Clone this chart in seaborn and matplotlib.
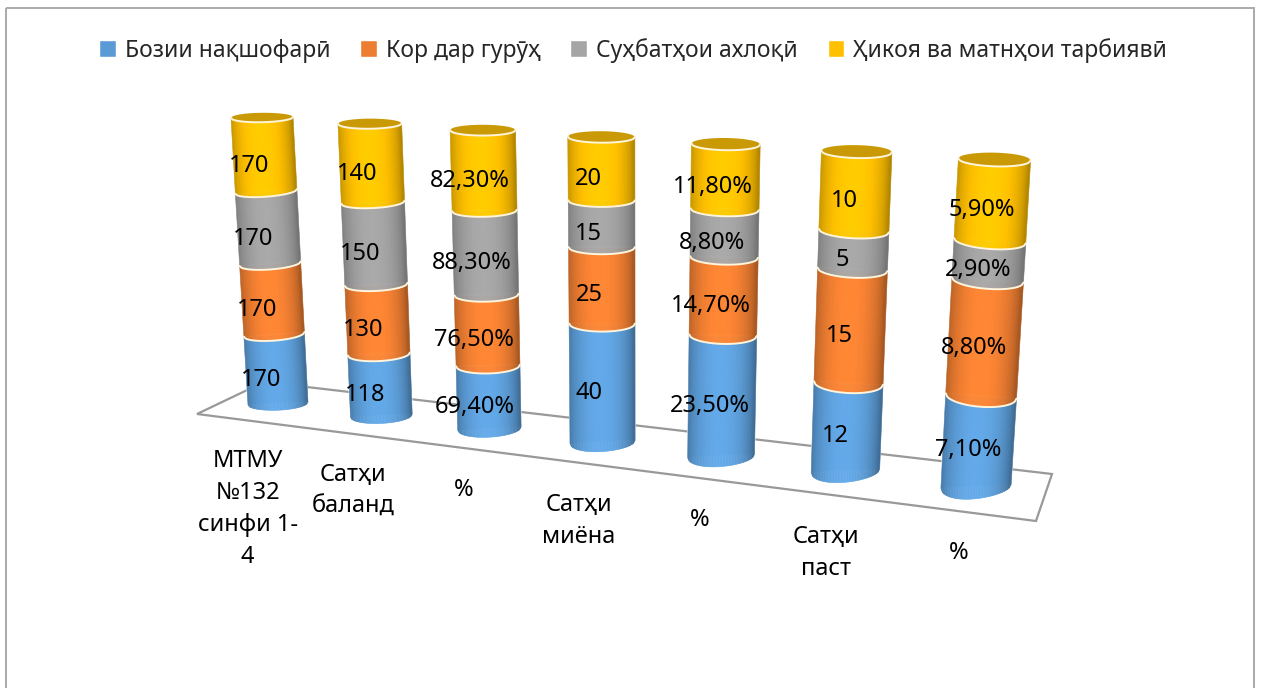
import numpy as np
import seaborn as sns
import matplotlib
matplotlib.use('Agg')
from matplotlib import pyplot as plt
from matplotlib.collections import PolyCollection
from matplotlib.colors import to_rgb
from matplotlib.patches import Polygon, Rectangle
from matplotlib.transforms import Affine2D, Transform

# Chart data, one list per series
categories = ['МТМУ\n№132\nсинфи 1-\n4', 'Сатҳи\nбаланд', '%', 'Сатҳи\nмиёна', '%', 'Сатҳи\nпаст', '%']
series_names = ['Бозии нақшофарӣ', 'Кор дар гурӯҳ', 'Суҳбатҳои ахлоқӣ', 'Ҳикоя ва матнҳои тарбиявӣ']
blue_vals = [170, 118, 69.4, 40, 23.5, 12, 7.1]
orange_vals = [170, 130, 76.5, 25, 14.7, 15, 8.8]
gray_vals = [170, 150, 88.3, 15, 8.8, 5, 2.9]
yellow_vals = [170, 140, 82.3, 20, 11.8, 10, 5.9]

colors = ['#5B9BD5', '#ED7D31', '#A5A5A5', '#FFC000']
peaks = [1.10, 1.09, 1.03, 1.07]
BAR_W = 0.7
W, H = 1261, 688

sns.set_theme(style='white')
plt.rcParams['font.family'] = ['Noto Sans', 'DejaVu Sans']


# Column axes of the first and last cylinder, base and top, in image pixels
def homography(src, dst):
    rows, rhs = [], []
    for (x, y), (u, v) in zip(src, dst):
        rows.append([x, y, 1, 0, 0, 0, -u * x, -u * y])
        rows.append([0, 0, 0, x, y, 1, -v * x, -v * y])
        rhs += [u, v]
    return np.append(np.linalg.solve(np.array(rows, float), np.array(rhs, float)), 1).reshape(3, 3)


MAT = homography([(0, 0), (6, 0), (0, 1), (6, 1)],
                 [(278, 403.5), (976, 486.5), (262, 117.5), (994.5, 159.5)])


def half_width(i, y):
    return 30 + 0.85 * i + 1.0 * y


def cap_ry(i, y):
    # ellipse half height in pixels, flatter near the eye level at the top
    return (7 + i) * (1 - y) + (4.5 + i / 3) * y


def col_height(i):
    return 286 + 7 * i


def ring_tilt(i, y):
    # rings lean outwards on the outer columns, the top cap and the base much less
    mid = (i - 3) / 3 * 0.075
    top = (i - 3) / 3 * 0.023 + 0.007
    t = np.where(y > 0.85, mid + (top - mid) * (y - 0.85) / 0.15, mid)
    return np.where(y < 0.1, -0.05 + (mid + 0.05) * y / 0.1, t)


class Perspective(Transform):
    input_dims = 2
    output_dims = 2
    is_separable = False
    has_inverse = False

    def transform_non_affine(self, values):
        values = np.asarray(values, float)
        x, y = values[:, 0], values[:, 1]
        i = np.rint(x)
        d = MAT[2, 0] * i + MAT[2, 1] * y + 1
        px = (MAT[0, 0] * i + MAT[0, 1] * y + MAT[0, 2]) / d
        py = (MAT[1, 0] * i + MAT[1, 1] * y + MAT[1, 2]) / d
        off = (x - i) / (BAR_W / 2) * half_width(i, y)
        return np.column_stack([px + off, py + off * ring_tilt(i, y)])


fig = plt.figure(figsize=(W / 100, H / 100), dpi=100, facecolor='white')
ax = fig.add_axes([0, 0, 1, 1])

pix = Affine2D().scale(1 / W, -1 / H).translate(0, 1) + fig.transFigure
persp = Perspective() + pix

# 100% stacked bars
table = np.array([blue_vals, orange_vals, gray_vals, yellow_vals], float)
shares = table / table.sum(axis=0)
bottoms = np.vstack([np.zeros(7), np.cumsum(shares, axis=0)[:-1]])
for k, name in enumerate(series_names):
    sns.barplot(x=list(range(7)), y=shares[k], bottom=bottoms[k], color=colors[k], saturation=1,
                width=BAR_W, label=name, legend=False, ax=ax)

handles = list(ax.containers)

# floor and chart frame
ax.add_patch(Polygon([(197, 414), (264, 382), (1052, 474), (1036, 521)], closed=True, fill=False,
                     edgecolor='#999999', lw=1.6, transform=pix, zorder=1, clip_on=False))
ax.add_patch(Rectangle((6, 8), 1248, 720, fill=False, edgecolor='#aaaaaa', lw=1.4,
                       transform=pix, zorder=0, clip_on=False))

us = np.linspace(-1, 1, 45)


def shade(u, peak):
    # dark at both edges of the cylinder, bright a little left of centre
    return 0.70 + (peak - 0.70) * np.clip(1 - ((u + 0.05) / 1.0) ** 2, 0, 1) ** 0.7


def arc(i, y, u):
    return y - cap_ry(i, y) / col_height(i) * np.sqrt(np.clip(1 - u ** 2, 0, 1))


for k, cont in enumerate(ax.containers):
    base = np.array(to_rgb(colors[k]))
    verts, cols = [], []
    for bar in cont:
        bar.set_transform(persp)
        bar.set_clip_on(False)
        bar.set_zorder(2)
        x0, w = bar.get_x(), bar.get_width()
        y0, y1 = bar.get_y(), bar.get_y() + bar.get_height()
        i = x0 + w / 2
        for a, b in zip(us[:-1], us[1:]):
            xa, xb = i + a * w / 2, i + b * w / 2
            verts.append([(xa, arc(i, y0, a)), (xb, arc(i, y0, b)), (xb, arc(i, y1, b)), (xa, arc(i, y1, a))])
            cols.append(np.clip(base * shade((a + b) / 2, peaks[k]), 0, 1))
        # light seam along the front of each ring
        ax.plot(i + us * w / 2, arc(i, y1, us), color='#fff4dc', lw=1.4, transform=persp, zorder=4,
                solid_capstyle='round', scalex=False, scaley=False)
        if k == 3:
            top = [(i + u * w / 2, arc(i, 1, u)) for u in us]
            back = [(i + u * w / 2, 2 - arc(i, 1, u)) for u in us[::-1]]
            ax.add_patch(Polygon(top + back, closed=True, facecolor='#c99a06', edgecolor='none',
                                 transform=persp, zorder=3.5, clip_on=False))
    ax.add_collection(PolyCollection(verts, facecolors=cols, edgecolors=cols, linewidths=0.4,
                                     transform=persp, zorder=3), autolim=False)


def fmt(pos, v):
    if categories[pos] == '%':
        return ('%.2f%%' % v).replace('.', ',')
    return '%d' % v


# data labels sit left of the axis and a bit below the middle of each segment
for k in range(4):
    for pos in range(7):
        mid = bottoms[k][pos] + shares[k][pos] / 2
        dx = -(16 - pos) / half_width(pos, mid) * BAR_W / 2
        ax.text(pos + dx, mid - 10 / col_height(pos), fmt(pos, table[k][pos]), transform=persp,
                ha='center', va='center', fontsize=17, color='black', zorder=6)

# category labels below the floor
for pos, lab in enumerate(categories):
    dx = (-33 + 3 * pos) / half_width(pos, 0) * BAR_W / 2
    ax.text(pos + dx, -0.165, lab, transform=persp, ha='center', va='top', fontsize=17,
            linespacing=1.45, color='black', zorder=6)

ax.legend(handles, series_names, ncol=4, loc='upper center', bbox_to_anchor=(0.502, 0.975), frameon=False,
          fontsize=16.5, handlelength=0.72, handleheight=0.72, handletextpad=0.4, columnspacing=1.3)
ax.set_xlim(-1, 7)
ax.set_ylim(-1, 2)
ax.axis('off')

fig.savefig('out.png', dpi=100, facecolor='white')
